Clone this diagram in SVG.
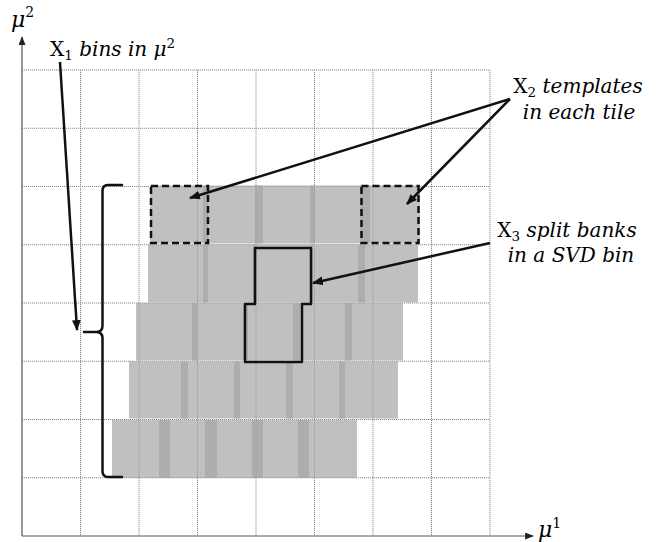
<svg xmlns="http://www.w3.org/2000/svg" width="659" height="542" viewBox="0 0 659 542">
<style>
.grid{stroke:#8c8c8c;stroke-width:1;stroke-dasharray:1.2 0.8;fill:none}
.axis{stroke:#555;stroke-width:1.2;fill:none}
.tile{fill:#a5a5a5;fill-opacity:0.7}
.dash{fill:none;stroke:#111;stroke-width:2.5;stroke-dasharray:7 4}
.bank{fill:none;stroke:#111;stroke-width:2.5;stroke-linejoin:round}
.conn{fill:none;stroke:#111;stroke-width:2.5}
.brace{fill:none;stroke:#111;stroke-width:2.5;stroke-linecap:round;stroke-linejoin:round}
.lbl{font-family:"DejaVu Serif","Liberation Serif",serif;font-size:20px;fill:#000}
.ax{font-size:22px}
.it{font-style:italic}
</style>
<defs>
<marker id="ah" viewBox="0 0 10 8" refX="9" refY="4" markerWidth="11" markerHeight="9" markerUnits="userSpaceOnUse" orient="auto">
<path d="M0,0 L10,4 L0,8 Z" fill="#111"/>
</marker>
<marker id="axh" viewBox="0 0 10 8" refX="9" refY="4" markerWidth="9" markerHeight="7" markerUnits="userSpaceOnUse" orient="auto">
<path d="M0,0 L10,4 L0,8 Z" fill="#222"/>
</marker>
</defs>
<g id="grid">
<path class="grid" d="M80.5,70V536M139,70V536M197.5,70V536M256,70V536M314.5,70V536M373,70V536M431.5,70V536M490,70V536"/>
<path class="grid" d="M22,70H490M22,128.25H490M22,186.5H490M22,244.75H490M22,303H490M22,361.25H490M22,419.5H490M22,477.75H490"/>
</g>
<g id="axes">
<line class="axis" x1="22" y1="536" x2="22" y2="37" marker-end="url(#axh)"/>
<line class="axis" x1="22" y1="536" x2="533" y2="536" marker-end="url(#axh)"/>
</g>
<g id="tiles">
<g id="row1">
<rect class="tile" x="150" y="185.5" width="58" height="58"/>
<rect class="tile" x="203" y="185.5" width="60" height="58"/>
<rect class="tile" x="255" y="185.5" width="60" height="58"/>
<rect class="tile" x="310" y="185.5" width="60" height="58"/>
<rect class="tile" x="360" y="185.5" width="60" height="58"/>
</g>
<g id="row2">
<rect class="tile" x="148" y="244.5" width="60" height="58"/>
<rect class="tile" x="203" y="244.5" width="54" height="58"/>
<rect class="tile" x="253" y="244.5" width="60" height="58"/>
<rect class="tile" x="310" y="244.5" width="55" height="58"/>
<rect class="tile" x="358" y="244.5" width="60" height="58"/>
</g>
<g id="row3">
<rect class="tile" x="136" y="303" width="61" height="57.5"/>
<rect class="tile" x="192" y="303" width="56" height="57.5"/>
<rect class="tile" x="243" y="303" width="57" height="57.5"/>
<rect class="tile" x="293" y="303" width="59" height="57.5"/>
<rect class="tile" x="345" y="303" width="58" height="57.5"/>
</g>
<g id="row4">
<rect class="tile" x="129" y="361.5" width="59" height="57"/>
<rect class="tile" x="181" y="361.5" width="59" height="57"/>
<rect class="tile" x="234" y="361.5" width="59" height="57"/>
<rect class="tile" x="286" y="361.5" width="59" height="57"/>
<rect class="tile" x="339" y="361.5" width="59" height="57"/>
</g>
<g id="row5">
<rect class="tile" x="112" y="420" width="58" height="58"/>
<rect class="tile" x="159" y="420" width="58" height="58"/>
<rect class="tile" x="205" y="420" width="58" height="58"/>
<rect class="tile" x="252" y="420" width="57" height="58"/>
<rect class="tile" x="298" y="420" width="59" height="58"/>
</g>
</g>
<g id="templates">
<rect id="tpl-left" class="dash" x="151" y="186" width="57" height="57"/>
<rect id="tpl-right" class="dash" x="361.5" y="186" width="57" height="57"/>
</g>
<g id="split-bank">
<path class="bank" d="M255,248H311V304H302V362H245V304H255Z"/>
</g>
<g id="brace">
<path class="brace" d="M122,185H108Q102.5,185 102.5,191V326Q102.5,332 96,332H84M96,332Q102.5,332 102.5,338V471Q102.5,477 108,477H122"/>
</g>
<g id="connectors">
<line class="conn" x1="60" y1="62" x2="77" y2="330" marker-end="url(#ah)"/>
<line class="conn" x1="510" y1="99" x2="190" y2="198" marker-end="url(#ah)"/>
<line class="conn" x1="510" y1="99" x2="407" y2="204" marker-end="url(#ah)"/>
<line class="conn" x1="490" y1="243" x2="313" y2="283" marker-end="url(#ah)"/>
</g>
<g id="labels">
<text class="lbl ax it" x="11" y="27">μ<tspan font-size="14" dy="-10" font-style="normal">2</tspan></text>
<text class="lbl ax it" x="538" y="537">μ<tspan font-size="14" dy="-9" font-style="normal">1</tspan></text>
<text class="lbl" x="50" y="56">X<tspan font-size="13.5" dy="4">1</tspan><tspan class="it" dy="-4"> bins in μ</tspan><tspan font-size="13.5" dy="-8">2</tspan></text>
<text class="lbl" x="578" y="93" text-anchor="middle">X<tspan font-size="13.5" dy="4">2</tspan><tspan class="it" dy="-4"> templates</tspan></text>
<text class="lbl it" x="579" y="119" text-anchor="middle">in each tile</text>
<text class="lbl" x="567" y="237" text-anchor="middle">X<tspan font-size="13.5" dy="4">3</tspan><tspan class="it" dy="-4"> split banks</tspan></text>
<text class="lbl it" x="571" y="262" text-anchor="middle">in a SVD bin</text>
</g>
</svg>
